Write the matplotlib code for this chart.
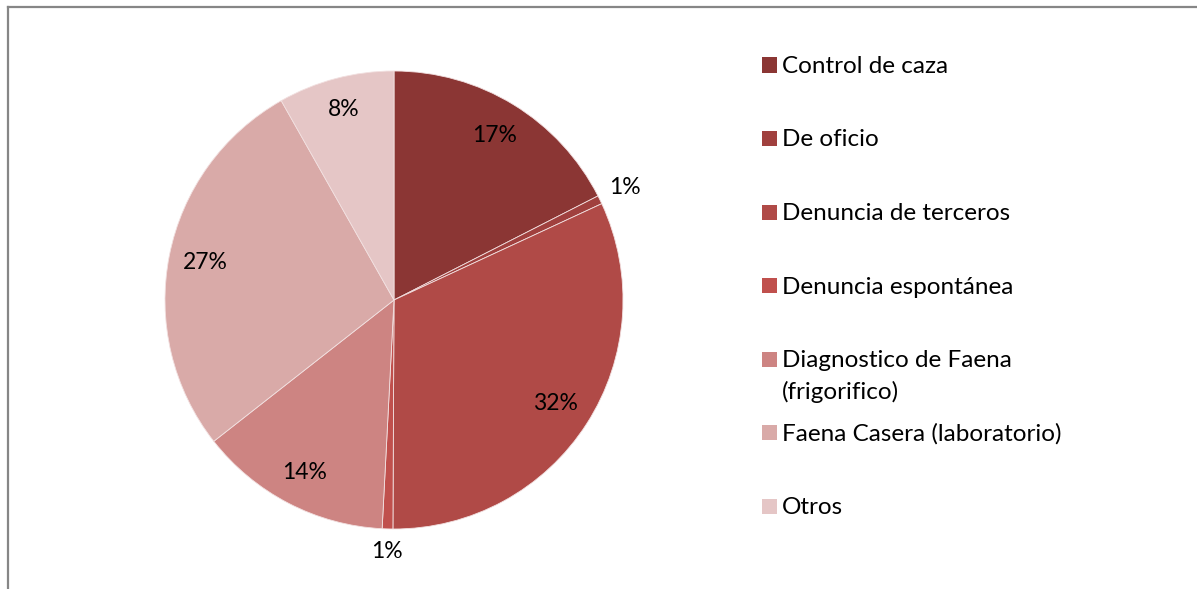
import numpy as np
import matplotlib.pyplot as plt
from matplotlib.patches import Rectangle
from matplotlib.lines import Line2D

plt.rcParams['font.family'] = ['Lato', 'DejaVu Sans']

# data (percent)
categories = ['Control de caza', 'De oficio', 'Denuncia de terceros',
              'Denuncia espontánea', 'Diagnostico de Faena\n(frigorifico)',
              'Faena Casera (laboratorio)', 'Otros']
values = [17.5, 0.6, 32.0, 0.75, 13.6, 27.4, 8.2]
labels = ['17%', '1%', '32%', '1%', '14%', '27%', '8%']
colors = ['#8B3634', '#A0403E', '#B04A47', '#C0504D',
          '#CD8482', '#D9AAA8', '#E5C6C6']

fig = plt.figure(figsize=(11.97, 5.89), dpi=100)
ax = fig.add_axes([165 / 1197, 60 / 589, 458 / 1197, 458 / 589])

wedges, _ = ax.pie(values, colors=colors, startangle=90, counterclock=False,
                   radius=1, wedgeprops=dict(edgecolor='#F2E0E0', linewidth=0.6))
ax.set_xlim(-1, 1)
ax.set_ylim(-1, 1)
ax.set_aspect('equal')
ax.axis('off')

# percentage labels along each wedge's mid angle (small ones outside)
label_r = [0.84, 1.12, 0.84, 1.10, 0.85, 0.84, 0.86]
total = sum(values)
start = 90.0
for v, lab, r in zip(values, labels, label_r):
    mid = start - v / total * 360 / 2
    start -= v / total * 360
    x = r * np.cos(np.radians(mid))
    y = r * np.sin(np.radians(mid))
    ax.text(x, y, lab, ha='center', va='center', fontsize=16.5, color='black')

# legend laid out like the original (marker aligned with first line)
for i, (cat, col) in enumerate(zip(categories, colors)):
    yc = 1 - (65 + 73.5 * i) / 589
    fig.patches.append(Rectangle((762 / 1197, yc - 7.5 / 589), 15 / 1197, 15 / 589,
                                 transform=fig.transFigure, facecolor=col,
                                 edgecolor='none'))
    for k, line in enumerate(cat.split('\n')):
        fig.text(782 / 1197, yc - (8 + 32 * k) / 589, line, ha='left',
                 va='baseline', fontsize=17.5, color='black')

# frame lines (top and left)
fig.add_artist(Line2D([7.5 / 1197, 1], [1 - 6.5 / 589, 1 - 6.5 / 589],
                      transform=fig.transFigure, color='#868686', linewidth=1.6))
fig.add_artist(Line2D([7.5 / 1197, 7.5 / 1197], [0, 1 - 6.5 / 589],
                      transform=fig.transFigure, color='#868686', linewidth=1.6))

fig.savefig('out.png', dpi=100)
